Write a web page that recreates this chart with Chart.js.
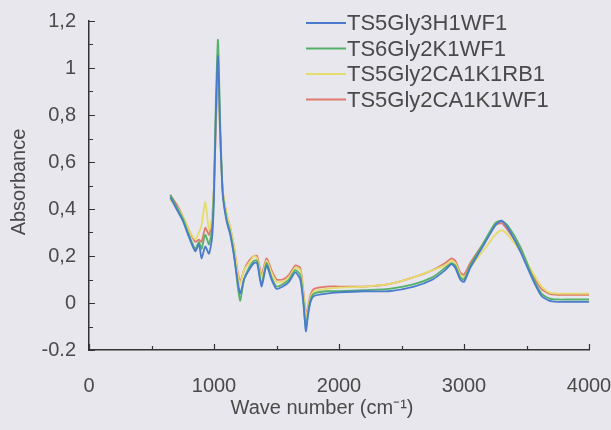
<!DOCTYPE html>
<html>
<head>
<meta charset="utf-8">
<script src="https://cdn.jsdelivr.net/npm/chart.js@4"></script>
<style>
  html, body { margin: 0; padding: 0; background: #e7e7ed; }
  #wrap { width: 611px; height: 430px; }
</style>
</head>
<body>
<div id="wrap"><canvas id="ftir" width="611" height="430"></canvas></div>
<script>
// ── Data ─────────────────────────────────────────────────────
const wavenumbers = [650, 700, 750, 800, 850, 880, 900, 930, 960, 985, 1000, 1015, 1032, 1050, 1070,
  1100, 1130, 1160, 1190, 1210, 1240, 1280, 1320, 1345, 1380, 1420, 1460, 1500, 1550, 1600, 1650,
  1690, 1715, 1735, 1750, 1770, 1800, 1900, 2000, 2200, 2400, 2600, 2750, 2850, 2900, 2930, 2970,
  3000, 3050, 3150, 3250, 3300, 3350, 3450, 3550, 3620, 3680, 3750, 3850, 3950, 4000];

const seriesNames = ['TS5Gly3H1WF1', 'TS6Gly2K1WF1', 'TS5Gly2CA1K1RB1', 'TS5Gly2CA1K1WF1'];
const seriesColors = ['#4a7bcc', '#55b06a', '#e6dc6e', '#e07a6c'];

const blueVals = [0.45, 0.40, 0.35, 0.28, 0.22, 0.25, 0.19, 0.24, 0.21, 0.28, 0.45, 0.80, 1.05, 0.72, 0.46,
  0.35, 0.29, 0.20, 0.09, 0.04, 0.10, 0.14, 0.17, 0.17, 0.07, 0.16, 0.10, 0.06, 0.07, 0.09, 0.13,
  0.10, 0.00, -0.12, -0.06, 0.00, 0.03, 0.04, 0.045, 0.05, 0.05, 0.07, 0.10, 0.14, 0.165, 0.15, 0.10,
  0.09, 0.15, 0.24, 0.33, 0.35, 0.32, 0.22, 0.10, 0.03, 0.01, 0.005, 0.005, 0.005, 0.005];

const greenVals = [0.46, 0.41, 0.36, 0.29, 0.23, 0.26, 0.23, 0.29, 0.25, 0.32, 0.50, 0.86, 1.12, 0.75, 0.47,
  0.36, 0.30, 0.21, 0.07, 0.01, 0.10, 0.15, 0.18, 0.18, 0.08, 0.17, 0.11, 0.07, 0.08, 0.10, 0.14,
  0.12, 0.01, -0.11, -0.05, 0.01, 0.04, 0.05, 0.05, 0.055, 0.06, 0.08, 0.11, 0.15, 0.17, 0.16, 0.11,
  0.10, 0.16, 0.25, 0.34, 0.35, 0.33, 0.24, 0.11, 0.04, 0.02, 0.015, 0.015, 0.015, 0.015];

const yellowVals = [0.44, 0.41, 0.37, 0.31, 0.27, 0.30, 0.33, 0.43, 0.31, 0.37, 0.50, 0.80, 1.00, 0.70, 0.48,
  0.38, 0.32, 0.24, 0.12, 0.08, 0.14, 0.17, 0.20, 0.19, 0.11, 0.18, 0.13, 0.09, 0.09, 0.11, 0.15,
  0.14, 0.04, -0.06, -0.03, 0.02, 0.05, 0.06, 0.065, 0.07, 0.08, 0.11, 0.14, 0.16, 0.18, 0.17, 0.12,
  0.11, 0.15, 0.22, 0.29, 0.31, 0.29, 0.22, 0.13, 0.07, 0.045, 0.04, 0.04, 0.04, 0.04];

const redVals = [0.46, 0.42, 0.37, 0.31, 0.26, 0.27, 0.26, 0.32, 0.29, 0.36, 0.50, 0.75, 0.97, 0.70, 0.48,
  0.38, 0.32, 0.24, 0.13, 0.09, 0.14, 0.18, 0.20, 0.20, 0.12, 0.19, 0.14, 0.10, 0.10, 0.12, 0.16,
  0.15, 0.05, -0.05, -0.02, 0.03, 0.06, 0.07, 0.07, 0.07, 0.08, 0.11, 0.14, 0.17, 0.19, 0.18, 0.13,
  0.12, 0.17, 0.25, 0.33, 0.34, 0.31, 0.23, 0.12, 0.06, 0.04, 0.035, 0.035, 0.035, 0.035];

const seriesValues = [blueVals, greenVals, yellowVals, redVals];

const xTitle = 'Wave number (cm\u207B\u00B9)';
const yTitle = 'Absorbance';

const textColor = '#4a4a4a';
const axisColor = '#333';
const fontFamily = '"Liberation Sans", Arial, sans-serif';

// ── Plugins: inward tick marks, axis titles, in-plot legend ──
const tickMarks = {
  id: 'tickMarks',
  afterDraw(chart) {
    const { ctx, chartArea: a, scales: { x, y } } = chart;
    ctx.save();
    ctx.strokeStyle = axisColor;
    ctx.lineWidth = 1.2;
    ctx.beginPath();
    for (let k = -2; k <= 12; k++) {
      const py = Math.round(y.getPixelForValue(k / 10)) + 0.5;
      const len = k % 2 === 0 ? 6 : 4;
      ctx.moveTo(a.left, py); ctx.lineTo(a.left + len, py);
    }
    for (let v = 0; v <= 4000; v += 500) {
      const px = Math.round(x.getPixelForValue(v)) + 0.5;
      const len = v % 1000 === 0 ? 6 : 4;
      ctx.moveTo(px, a.bottom); ctx.lineTo(px, a.bottom - len);
    }
    ctx.stroke();

    // axis titles
    ctx.fillStyle = textColor;
    ctx.font = `20px ${fontFamily}`;
    ctx.textAlign = 'center';
    ctx.textBaseline = 'middle';
    ctx.fillText(xTitle, 322, 408);
    ctx.translate(19, 182);
    ctx.rotate(-Math.PI / 2);
    ctx.fillText(yTitle, 0, 0);
    ctx.restore();
  }
};

const boxLegend = {
  id: 'boxLegend',
  afterDatasetsDraw(chart) {
    const { ctx } = chart;
    ctx.save();
    ctx.font = `22px ${fontFamily}`;
    ctx.textBaseline = 'middle';
    chart.data.datasets.forEach((ds, i) => {
      const yy = 23 + i * 25.5;
      ctx.strokeStyle = ds.borderColor;
      ctx.lineWidth = 2;
      ctx.beginPath(); ctx.moveTo(306, yy); ctx.lineTo(346, yy); ctx.stroke();
      ctx.fillStyle = textColor;
      ctx.fillText(ds.label, 347, yy + 1);
    });
    ctx.restore();
  }
};

// ── Chart ────────────────────────────────────────────────────
const datasets = seriesNames.map((name, s) => ({
  label: name,
  data: wavenumbers.map((wn, i) => ({ x: wn, y: seriesValues[s][i] })),
  borderColor: seriesColors[s],
  borderWidth: 1.8,
  pointRadius: 0,
  tension: 0.2,
  fill: false
}));

const font = { family: fontFamily, size: 20 };

new Chart(document.getElementById('ftir'), {
  type: 'line',
  data: { datasets },
  options: {
    responsive: false,
    animation: false,
    layout: { padding: { top: 21, right: 22, left: 0, bottom: 0 } },
    plugins: { legend: { display: false }, tooltip: { enabled: false } },
    scales: {
      x: {
        type: 'linear', min: 0, max: 4000,
        grid: { display: false },
        border: { display: true, color: axisColor, width: 1.5 },
        ticks: {
          stepSize: 1000, maxRotation: 0, padding: 16, color: textColor, font,
          callback: v => String(v)
        },
        afterFit: s => { s.height = 80; s.paddingLeft = 0; s.paddingRight = 0; }
      },
      y: {
        min: -0.2, max: 1.2,
        grid: { display: false },
        border: { display: true, color: axisColor, width: 1.5 },
        ticks: {
          stepSize: 0.2, padding: 5, color: textColor, font,
          callback: v => {
            const r = Math.round(v * 10) / 10;
            if (r === -0.2) return '-0.2';
            return String(r).replace('.', ',');
          }
        },
        afterFit: s => { s.width = 89; s.paddingTop = 0; s.paddingBottom = 0; }
      }
    }
  },
  plugins: [tickMarks, boxLegend]
});
</script>
</body>
</html>
